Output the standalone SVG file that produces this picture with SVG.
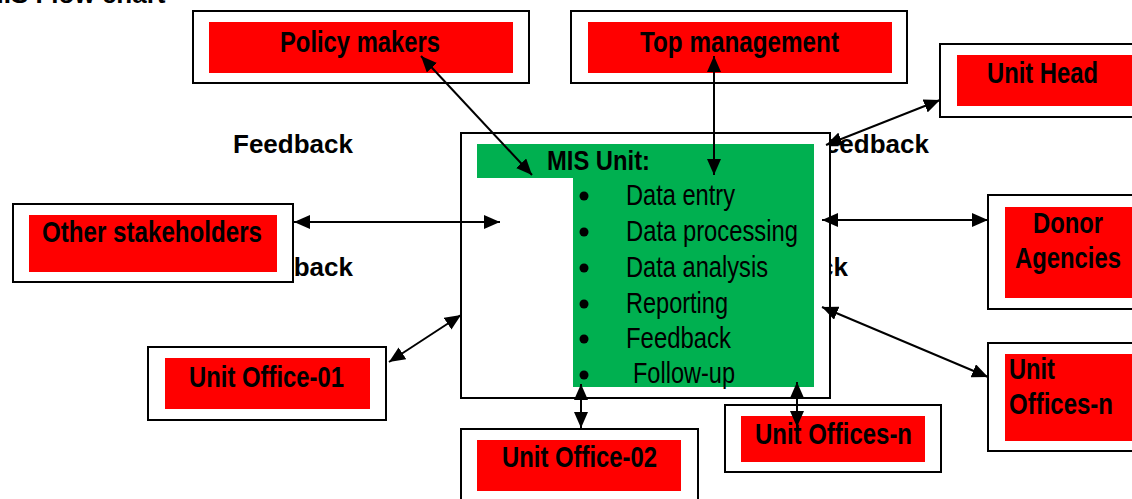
<svg xmlns="http://www.w3.org/2000/svg" width="1132" height="499" viewBox="0 0 1132 499">
<style>
.outer{fill:#fff;stroke:#000;stroke-width:2}
.red{fill:#ff0000}
.green{fill:#00b050}
.lbl{font-family:"Liberation Sans",Arial,sans-serif;font-weight:bold;font-size:30px;fill:#000}
.item{font-family:"Liberation Sans",Arial,sans-serif;font-size:29px;fill:#000}
.fb{font-family:"Liberation Sans",Arial,sans-serif;font-weight:bold;font-size:26px;fill:#000}
.conn{stroke:#000;stroke-width:2;fill:none;marker-start:url(#ah);marker-end:url(#ah)}
</style>
<defs>
<marker id="ah" viewBox="0 0 16 14" refX="16" refY="7" markerWidth="16" markerHeight="14" markerUnits="userSpaceOnUse" orient="auto-start-reverse">
<path d="M0,0 L16,7 L0,14 Z" fill="#000"/>
</marker>
</defs>
<text class="fb" x="-18" y="3">MIS Flow chart</text>
<g id="feedback-labels">
<text class="fb" x="233" y="153">Feedback</text>
<text class="fb" x="809" y="153">Feedback</text>
<text class="fb" x="233" y="276">Feedback</text>
<text class="fb" x="728" y="276">Feedback</text>
</g>
<g id="policy-makers">
<rect class="outer" x="193" y="11" width="336" height="72"/>
<rect class="red" x="209" y="22" width="304" height="51"/>
<text class="lbl" x="280" y="52" textLength="160" lengthAdjust="spacingAndGlyphs">Policy makers</text>
</g>
<g id="top-management">
<rect class="outer" x="571" y="11" width="336" height="72"/>
<rect class="red" x="588" y="22" width="304" height="51"/>
<text class="lbl" x="640" y="52" textLength="199" lengthAdjust="spacingAndGlyphs">Top management</text>
</g>
<g id="unit-head">
<rect class="outer" x="940" y="44" width="200" height="73"/>
<rect class="red" x="957" y="55" width="175" height="51"/>
<text class="lbl" x="987" y="83" textLength="111" lengthAdjust="spacingAndGlyphs">Unit Head</text>
</g>
<g id="mis-unit">
<rect class="outer" x="461" y="133" width="369" height="265"/>
<rect class="green" x="477" y="144" width="337" height="34"/>
<rect class="green" x="573" y="177" width="241" height="210"/>
<text class="lbl" x="547" y="170" style="font-size:28px" textLength="103" lengthAdjust="spacingAndGlyphs">MIS Unit:</text>
<g fill="#000">
<circle cx="584" cy="196" r="4.5"/>
<circle cx="584" cy="232" r="4.5"/>
<circle cx="584" cy="268" r="4.5"/>
<circle cx="584" cy="304" r="4.5"/>
<circle cx="584" cy="339" r="4.5"/>
<circle cx="584" cy="375" r="4.5"/>
</g>
<text class="item" x="626" y="205" textLength="109" lengthAdjust="spacingAndGlyphs">Data entry</text>
<text class="item" x="626" y="241" textLength="172" lengthAdjust="spacingAndGlyphs">Data processing</text>
<text class="item" x="626" y="277" textLength="142" lengthAdjust="spacingAndGlyphs">Data analysis</text>
<text class="item" x="626" y="313" textLength="102" lengthAdjust="spacingAndGlyphs">Reporting</text>
<text class="item" x="626" y="348" textLength="105" lengthAdjust="spacingAndGlyphs">Feedback</text>
<text class="item" x="633" y="383" textLength="102" lengthAdjust="spacingAndGlyphs">Follow-up</text>
</g>
<g id="other-stakeholders">
<rect class="outer" x="13" y="204" width="280" height="78"/>
<rect class="red" x="29" y="215" width="248" height="57"/>
<text class="lbl" x="42" y="242" textLength="220" lengthAdjust="spacingAndGlyphs">Other stakeholders</text>
</g>
<g id="donor-agencies">
<rect class="outer" x="988" y="195" width="150" height="114"/>
<rect class="red" x="1005" y="207" width="127" height="91"/>
<text class="lbl" x="1033" y="233" textLength="70" lengthAdjust="spacingAndGlyphs">Donor</text>
<text class="lbl" x="1015" y="268" textLength="106" lengthAdjust="spacingAndGlyphs">Agencies</text>
</g>
<g id="unit-office-01">
<rect class="outer" x="148" y="347" width="238" height="73"/>
<rect class="red" x="165" y="358" width="205" height="51"/>
<text class="lbl" x="189" y="387" textLength="155" lengthAdjust="spacingAndGlyphs">Unit Office-01</text>
</g>
<g id="unit-office-02">
<rect class="outer" x="461" y="429" width="237" height="80"/>
<rect class="red" x="477" y="440" width="204" height="51"/>
<text class="lbl" x="502" y="467" textLength="155" lengthAdjust="spacingAndGlyphs">Unit Office-02</text>
</g>
<g id="unit-offices-n-bottom">
<rect class="outer" x="725" y="405" width="216" height="67"/>
<rect class="red" x="741" y="416" width="184" height="46"/>
<text class="lbl" x="755" y="444" textLength="157" lengthAdjust="spacingAndGlyphs">Unit Offices-n</text>
</g>
<g id="unit-offices-n-right">
<rect class="outer" x="988" y="343" width="150" height="108"/>
<rect class="red" x="1005" y="354" width="127" height="87"/>
<text class="lbl" x="1009" y="379" textLength="46" lengthAdjust="spacingAndGlyphs">Unit</text>
<text class="lbl" x="1009" y="414" textLength="104" lengthAdjust="spacingAndGlyphs">Offices-n</text>
</g>
<g id="connectors">
<line class="conn" x1="421" y1="56" x2="532" y2="175"/>
<line class="conn" x1="714" y1="56" x2="714" y2="175"/>
<line class="conn" x1="826" y1="145" x2="940" y2="100"/>
<line class="conn" x1="294" y1="222" x2="500" y2="222"/>
<line class="conn" x1="822" y1="220" x2="988" y2="220"/>
<line class="conn" x1="822" y1="307" x2="988" y2="377"/>
<line class="conn" x1="389" y1="362" x2="461" y2="315"/>
<line class="conn" x1="581" y1="384" x2="581" y2="428"/>
<line class="conn" x1="797" y1="382" x2="797" y2="427"/>
</g>
</svg>
